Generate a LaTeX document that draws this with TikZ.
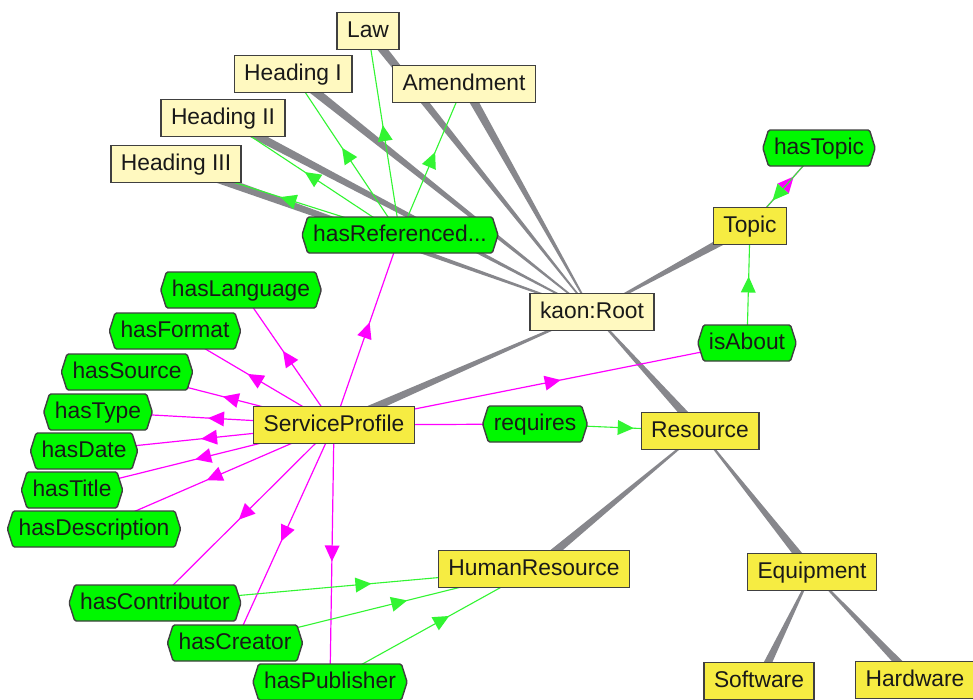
\documentclass[tikz,border=0pt]{standalone}
\usepackage{fontspec}
\setmainfont{Liberation Sans}
\usetikzlibrary{shapes.symbols,decorations.markings,backgrounds,calc}

\definecolor{classyellow}{RGB}{246,236,66}
\definecolor{rootyellow}{RGB}{255,249,192}
\definecolor{propgreen}{RGB}{0,248,0}
\definecolor{domainpink}{RGB}{255,0,255}
\definecolor{rangegreen}{RGB}{50,245,50}
\definecolor{isagray}{RGB}{135,135,140}

\tikzset{
  boxbase/.style={font=\fontsize{22.8}{26}\selectfont, text=black!90,
    draw=black!75, line width=1.4pt, minimum height=37pt,
    inner xsep=10pt, inner ysep=0pt, text height=16.5pt, text depth=4.5pt},
  classbox/.style={boxbase, rectangle, fill=classyellow},
  topbox/.style={boxbase, rectangle, fill=rootyellow},
  propbox/.style={boxbase, signal, signal to=west and east,
    signal pointer angle=145, fill=propgreen, minimum height=36pt,
    inner xsep=5.5pt, rounded corners=1.5pt},
  % filled triangular head placed mid-edge
  midhead/.style n args={2}{postaction={decorate},
    decoration={markings, mark=at position #1 with
      {\fill[#2] (-8pt,-7.5pt) -- (8pt,0pt) -- (-8pt,7.5pt) -- cycle;}}},
  domedge/.style={draw=domainpink, line width=1.2pt, midhead={#1}{domainpink}},
  domedge/.default=0.5,
  rngedge/.style={draw=rangegreen, line width=1.1pt, midhead={#1}{rangegreen}},
  rngedge/.default=0.5,
}

% tapered subclass edge: wide at the subclass (#1), thin at the superclass (#2)
\newcommand\isaedge[2]{%
  \fill[isagray] ($(#1)!4.5pt!90:(#2)$) -- ($(#2)!0.6pt!-90:(#1)$)
    -- ($(#2)!0.6pt!90:(#1)$) -- ($(#1)!4.5pt!-90:(#2)$) -- cycle;}

\begin{document}
\begin{tikzpicture}[x=1pt,y=-1pt]
\useasboundingbox (0,0) rectangle (973,699);

% upper ontology
\node[topbox] (law)   at (368,31)  {Law};
\node[topbox] (h1)    at (293,74)  {Heading I};
\node[topbox] (amend) at (464,84)  {Amendment};
\node[topbox] (h2)    at (223,118) {Heading II};
\node[topbox] (h3)    at (176,164) {Heading III};
\node[topbox] (root)  at (592,312) {kaon:Root};

% classes
\node[classbox] (topic) at (750,226) {Topic};
\node[classbox] (sp)    at (334,425) {ServiceProfile};
\node[classbox] (res)   at (700,431) {Resource};
\node[classbox] (hr)    at (534,569) {HumanResource};
\node[classbox] (equip) at (812,572) {Equipment};
\node[classbox] (soft)  at (759,681) {Software};
\node[classbox] (hard)  at (915,680) {Hardware};

% properties
\node[propbox] (hasref)   at (400,235) {hasReferenced...};
\node[propbox] (hastopic) at (819,148) {hasTopic};
\node[propbox] (isabout)  at (747,343) {isAbout};
\node[propbox] (haslang)  at (241,290) {hasLanguage};
\node[propbox] (hasfmt)   at (175,331) {hasFormat};
\node[propbox] (hassrc)   at (127,372) {hasSource};
\node[propbox] (hastype)  at (98,412)  {hasType};
\node[propbox] (hasdate)  at (84,451)  {hasDate};
\node[propbox] (hastitle) at (72,490)  {hasTitle};
\node[propbox] (hasdesc)  at (94,529)  {hasDescription};
\node[propbox] (requires) at (535,424) {requires};
\node[propbox] (hascontr) at (155,603) {hasContributor};
\node[propbox] (hascreat) at (235,643) {hasCreator};
\node[propbox] (haspub)   at (330,682) {hasPublisher};

\begin{pgfonlayer}{background}
  \fill[white] (0,0) rectangle (973,699);

  % subclass hierarchy
  \isaedge{law}{root}
  \isaedge{h1}{root}
  \isaedge{amend}{root}
  \isaedge{h2}{root}
  \isaedge{h3}{root}
  \isaedge{sp}{root}
  \isaedge{topic}{root}
  \isaedge{res}{root}
  \isaedge{hr}{res}
  \isaedge{equip}{res}
  \isaedge{soft}{equip}
  \isaedge{hard}{equip}

  % property domains
  \draw[domedge] (sp.center) -- (haslang.center);
  \draw[domedge] (sp.center) -- (hasfmt.center);
  \draw[domedge] (sp.center) -- (hassrc.center);
  \draw[domedge] (sp.center) -- (hastype.center);
  \draw[domedge] (sp.center) -- (hasdate.center);
  \draw[domedge] (sp.center) -- (hastitle.center);
  \draw[domedge] (sp.center) -- (hasdesc.center);
  \draw[domedge] (sp.center) -- (hascontr.center);
  \draw[domedge] (sp.center) -- (hascreat.center);
  \draw[domedge] (sp.center) -- (haspub.center);
  \draw[domedge] (sp.center) -- (hasref.center);
  \draw[domedge=0.32] (sp.center) -- (requires.center);
  \draw[domedge=0.53] (sp.center) -- (isabout.center);

  % property ranges
  \draw[rngedge] (hasref.center) -- (law.center);
  \draw[rngedge] (hasref.center) -- (h1.center);
  \draw[rngedge] (hasref.center) -- (amend.center);
  \draw[rngedge] (hasref.center) -- (h2.center);
  \draw[rngedge] (hasref.center) -- (h3.center);
  \draw[rngedge] (isabout.center) -- (topic.center);
  \draw[rngedge=0.55] (requires.center) -- (res.center);
  \draw[rngedge=0.55] (hascontr.center) -- (hr.center);
  \draw[rngedge=0.55] (hascreat.center) -- (hr.center);
  \draw[rngedge=0.55] (haspub.center) -- (hr.center);
  % hasTopic: Topic is both its domain and its range
  \draw[domedge=0.557] (topic.center) -- (hastopic.center);
  \draw[rngedge=0.597] (hastopic.center) -- (topic.center);
\end{pgfonlayer}
\end{tikzpicture}
\end{document}
